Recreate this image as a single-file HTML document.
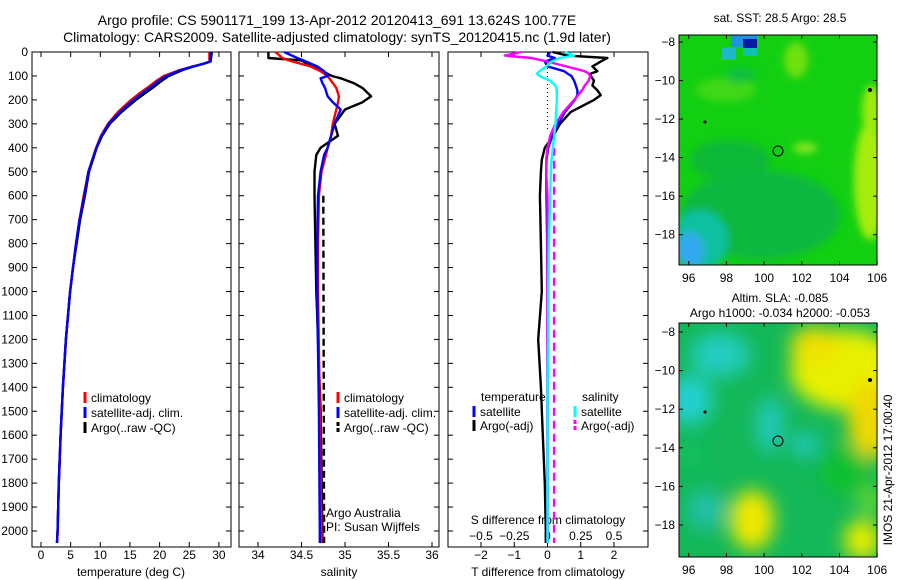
<!DOCTYPE html>
<html><head><meta charset="utf-8"><style>
body{margin:0;background:#fff;}
svg{display:block;font-family:"Liberation Sans",sans-serif;}
text{fill:#000;}
</style></head><body>
<svg id="fig" width="900" height="580" viewBox="0 0 900 580" xmlns="http://www.w3.org/2000/svg">
<defs>
<filter id="blur1" x="-20%" y="-20%" width="140%" height="140%"><feGaussianBlur stdDeviation="4"/></filter>
<filter id="blur2" x="-30%" y="-30%" width="160%" height="160%"><feGaussianBlur stdDeviation="9"/></filter>
<clipPath id="c1"><rect x="679" y="35" width="198" height="230"/></clipPath>
<clipPath id="c2"><rect x="679" y="323" width="198" height="234"/></clipPath>
</defs>
<text x="337" y="25" font-size="14" text-anchor="middle">Argo profile: CS 5901171_199 13-Apr-2012 20120413_691 13.624S 100.77E</text>
<text x="337" y="42" font-size="14" text-anchor="middle">Climatology: CARS2009. Satellite-adjusted climatology: synTS_20120415.nc (1.9d later)</text>
<g id="p1"></g>
<g id="p2"></g>
<g id="p3"></g>

<g>
<text x="780" y="22" font-size="12" text-anchor="middle">sat. SST: 28.5 Argo: 28.5</text>
<g clip-path="url(#c1)">
<rect x="679" y="35" width="198" height="230" fill="#12cf12"/>
<g filter="url(#blur1)">
<ellipse cx="760" cy="215" rx="80" ry="45" fill="#08b840"/>
<ellipse cx="730" cy="160" rx="40" ry="20" fill="#0ab838"/>
<ellipse cx="700" cy="240" rx="28" ry="30" fill="#10c0a0"/>
<ellipse cx="690" cy="250" rx="14" ry="18" fill="#30a8f0"/>
<ellipse cx="870" cy="180" rx="16" ry="60" fill="#a8ec10"/>
<ellipse cx="872" cy="110" rx="10" ry="25" fill="#a0ea10"/>
<ellipse cx="796" cy="60" rx="12" ry="18" fill="#70e010"/>
<ellipse cx="726" cy="90" rx="30" ry="12" fill="#40d818"/>
<ellipse cx="805" cy="148" rx="12" ry="5" fill="#90e820"/>
<ellipse cx="740" cy="75" rx="15" ry="8" fill="#10c040"/>
</g>
<rect x="731" y="35" width="26" height="12" fill="#2090e0"/>
<rect x="743" y="39" width="14" height="9" fill="#0a1aa0"/>
<rect x="722" y="48" width="14" height="12" fill="#20b8c8"/>
<rect x="743" y="48" width="14" height="8" fill="#10c0b0"/>
</g>
<rect x="679" y="35" width="198" height="230" fill="none" stroke="#000"/>
<circle cx="778" cy="151" r="5" fill="none" stroke="#000"/>
<circle cx="705" cy="122" r="1.5" fill="#000"/><circle cx="870" cy="90" r="2" fill="#000"/>
<g id="m1ticks"></g>
</g>

<g>
<text x="780" y="302" font-size="12" text-anchor="middle">Altim. SLA: -0.085</text>
<text x="780" y="317" font-size="12" text-anchor="middle">Argo h1000: -0.034 h2000: -0.053</text>
<g clip-path="url(#c2)">
<rect x="679" y="323" width="198" height="234" fill="#14b858"/>
<g filter="url(#blur2)">
<ellipse cx="720" cy="355" rx="30" ry="22" fill="#20ccc0"/>
<ellipse cx="690" cy="400" rx="22" ry="25" fill="#22d0d0"/>
<ellipse cx="770" cy="425" rx="14" ry="28" fill="#20c8b8"/>
<ellipse cx="805" cy="445" rx="14" ry="12" fill="#22c8c0"/>
<ellipse cx="705" cy="510" rx="18" ry="20" fill="#20c0a8"/>
<ellipse cx="845" cy="370" rx="55" ry="40" fill="#e8f000"/>
<ellipse cx="870" cy="420" rx="22" ry="40" fill="#f0d800"/>
<ellipse cx="815" cy="345" rx="25" ry="18" fill="#f0e000"/>
<ellipse cx="752" cy="520" rx="22" ry="30" fill="#f0e800"/>
<ellipse cx="862" cy="540" rx="18" ry="20" fill="#e8ec00"/>
<ellipse cx="870" cy="500" rx="12" ry="15" fill="#60d830"/>
<ellipse cx="690" cy="455" rx="14" ry="14" fill="#10c060"/>
<ellipse cx="845" cy="470" rx="25" ry="25" fill="#10c030"/>
</g>
</g>
<rect x="679" y="323" width="198" height="234" fill="none" stroke="#000"/>
<circle cx="778" cy="441" r="5" fill="none" stroke="#000"/>
<circle cx="705" cy="412" r="1.5" fill="#000"/><circle cx="870" cy="380" r="2" fill="#000"/>
<g id="m2ticks"></g>
</g>
<text transform="translate(892,470) rotate(-90)" font-size="12" text-anchor="middle">IMOS 21-Apr-2012 17:00:40</text>
</svg>
<script>
// ---- data ----
const depthT = [0,40,50,60,75,100,125,150,175,200,250,300,350,400,500,600,700,800,900,1000,1200,1400,1600,1800,2000,2050];
const tempArgo = [28.8,28.6,27.2,25.8,23.9,21.5,20.1,18.8,17.4,16.0,13.6,11.6,10.3,9.4,8.1,7.4,6.6,6,5.4,4.9,4.2,3.7,3.3,3.0,2.8,2.7];
const tempClim = [28.4,28.4,27.3,25.6,23.4,20.7,19.2,17.9,16.5,15.2,13.0,11.3,10.1,9.3,8,7.2,6.5,5.9,5.4,4.9,4.2,3.7,3.3,3.0,2.8,2.7];
const tempSat = [28.6,28.5,27.3,25.7,23.6,21.1,19.6,18.3,16.9,15.6,13.3,11.4,10.2,9.35,8.0,7.3,6.5,5.9,5.4,4.9,4.2,3.7,3.3,3.0,2.8,2.7];

const depthS = [0,25,35,60,80,100,110,130,150,185,210,240,300,350,400,430,500,600,800,1000,1500,2000,2050];
const salArgo = [34.12,34.12,34.5,34.62,34.74,34.85,34.95,35.1,35.2,35.3,35.2,35.0,34.88,34.92,34.72,34.67,34.65,34.65,34.66,34.67,34.72,34.74,34.74];
const salClim = [34.2,34.28,34.35,34.6,34.72,34.8,34.82,34.86,34.9,34.93,34.92,34.9,34.86,34.84,34.8,34.78,34.73,34.7,34.69,34.69,34.71,34.73,34.73];
const salSat = [34.3,34.45,34.52,34.68,34.76,34.8,34.72,34.74,34.77,34.8,34.86,34.95,34.88,34.84,34.8,34.76,34.72,34.69,34.68,34.68,34.7,34.71,34.71];
const depthRaw = [600,2050];
const salRaw = [34.75,34.76];

const depthD = [0,15,25,40,60,80,90,100,120,140,160,180,200,250,300,350,400,450,500,600,800,1000,1200,1400,1600,1800,2000,2050];
const tDiffArgo = [0.15,0.6,1.8,1.6,1.35,1.5,1.3,1.3,1.4,1.35,1.5,1.6,1.4,0.7,0.38,0.17,-0.08,-0.17,-0.2,-0.23,-0.2,-0.17,-0.28,-0.2,-0.14,-0.08,-0.05,-0.05];
const tDiffSat = [0.08,0,0.22,-0.08,0,0.5,0.6,0.72,0.8,0.85,0.9,0.9,0.82,0.53,0.32,0.14,0.02,-0.03,-0.04,-0.03,-0.01,0,0,0,0,0,0,0];
const sDiffSat = [0.13,0.2,0.09,0.03,-0.01,-0.06,-0.08,-0.06,0.02,0.06,0.07,0.07,0.07,0.065,0.06,0.05,0.04,0.03,0.025,0.02,0.01,0.005,0.005,0.0,0.0,0.0,0.0,0.0];
const sDiffArgo = [-0.2,-0.32,-0.12,0,0.14,0.28,0.31,0.32,0.31,0.28,0.26,0.23,0.2,0.12,0.06,0.02,0,-0.01,-0.01,0,0,0,0,0,0,0,0,0];
const depthSAdj = [400,2050];
const sDiffAdj = [0.05,0.05];

const depthTicks = [0,100,200,300,400,500,600,700,800,900,1000,1100,1200,1300,1400,1500,1600,1700,1800,1900,2000];
const tempTicks = [0,5,10,15,20,25,30];
const salTicks = [34,34.5,35,35.5,36];
const tDiffTicks = [-2,-1,0,1,2];
const sDiffTicks = [-0.5,-0.25,0,0.25,0.5];
const lonTicks = [96,98,100,102,104,106];
const latTicks = [-8,-10,-12,-14,-16,-18];

// ---- scales ----
const NS="http://www.w3.org/2000/svg";
const yD = d => 52 + d*0.2395;
const xT = t => 41 + t*5.93;
const xS = s => 258 + (s-34)*87;
const xDT = t => 547.5 + t*33.25;
const xDS = s => 547.5 + s*133;
const xLon = l => 688.7 + (l-96)*18.85;
const yLat1 = l => 42 + (-8-l)*19.27;
const yLat2 = l => 332 + (-8-l)*19.3;

function el(tag, attrs, parent){const e=document.createElementNS(NS,tag);for(const k in attrs)e.setAttribute(k,attrs[k]);parent.appendChild(e);return e;}
function txt(s,x,y,anchor,parent){const t=el('text',{x:x,y:y,'font-size':12,'text-anchor':anchor},parent);t.textContent=s;return t;}
function line(depths, vals, xf, color, parent, name, dash){
  const pts = depths.map((d,i)=>xf(vals[i]).toFixed(1)+','+yD(d).toFixed(1)).join(' ');
  const p = el('polyline',{points:pts,fill:'none',stroke:color,'stroke-width':2.4,'stroke-linejoin':'round'},parent);
  if(dash) p.setAttribute('stroke-dasharray',dash);
  
  
  return p;
}
function frame(x0,x1,parent,name){
  const r = el('rect',{x:x0,y:52,width:x1-x0,height:495,fill:'none',stroke:'#000'},parent);
  
  
  depthTicks.forEach(d=>{
    el('line',{x1:x0,x2:x0+5,y1:yD(d),y2:yD(d),stroke:'#000'},parent);
    el('line',{x1:x1,x2:x1-5,y1:yD(d),y2:yD(d),stroke:'#000'},parent);
  });
}
function xticks(ticks,xf,parent,y){
  ticks.forEach(t=>{
    el('line',{x1:xf(t),x2:xf(t),y1:547,y2:542,stroke:'#000'},parent);
    el('line',{x1:xf(t),x2:xf(t),y1:52,y2:57,stroke:'#000'},parent);
    const lb = txt(String(t).replace('-','\u2212'),xf(t),y,'middle',parent);
    
    
  });
}
function legendItem(x,y,color,label,parent,dash){
  const b = el('line',{x1:x,x2:x,y1:y-10,y2:y+1,stroke:color,'stroke-width':3},parent);
  if(dash) b.setAttribute('stroke-dasharray',dash);
  const t = txt(label,x+6,y,'start',parent);
  
  
}

// Panel 1
const p1=document.getElementById('p1');
frame(32,231,p1,'temperature-frame');
depthTicks.forEach(d=>{const t=txt(String(d),28,yD(d)+4,'end',p1);

});
xticks(tempTicks,xT,p1,559);
line(depthT,tempClim,xT,'#ff0000',p1,'temp-climatology-line');
line(depthT,tempArgo,xT,'#000',p1,'temp-argo-line');
line(depthT,tempSat,xT,'#0000ff',p1,'temp-satellite-line');
const xl1=txt('temperature (deg C)',131,576,'middle',p1);


legendItem(85,402,'#ff0000','climatology',p1);
legendItem(85,417,'#0000ff','satellite-adj. clim.',p1);
legendItem(85,432,'#000','Argo(..raw -QC)',p1);

// Panel 2
const p2=document.getElementById('p2');
frame(239,439,p2,'salinity-frame');
xticks(salTicks,xS,p2,559);
line(depthRaw,salRaw,xS,'#000',p2,'sal-argo-raw-line','7,4');
line(depthS,salArgo,xS,'#000',p2,'sal-argo-line');
line(depthS,salClim,xS,'#ff0000',p2,'sal-climatology-line');
line(depthS,salSat,xS,'#0000ff',p2,'sal-satellite-line');
const xl2=txt('salinity',339,576,'middle',p2);


legendItem(338,402,'#ff0000','climatology',p2);
legendItem(338,417,'#0000ff','satellite-adj. clim.',p2);
legendItem(338,432,'#000','Argo(..raw -QC)',p2,'4,2');
const aa=txt('Argo Australia',326,517,'start',p2);


const pi=txt('PI: Susan Wijffels',326,531,'start',p2);



// Panel 3
const p3=document.getElementById('p3');
frame(448,648,p3,'difference-frame');
xticks(tDiffTicks,xDT,p3,559);
sDiffTicks.forEach(t=>{const lb=txt(String(t).replace('-','\u2212'),xDS(t),540,'middle',p3);

});
const st=txt('S difference from climatology',548,524,'middle',p3);


const tt=txt('T difference from climatology',548,576,'middle',p3);


el('line',{x1:xDT(0),x2:xDT(0),y1:52,y2:yD(330),stroke:'#000','stroke-dasharray':'1,3'},p3);
line(depthD,tDiffArgo,xDT,'#000',p3,'tdiff-argo-line');
line(depthD,tDiffSat,xDT,'#0000ff',p3,'tdiff-satellite-line');
line(depthSAdj,sDiffAdj,xDS,'#ff00ff',p3,'sdiff-argo-adj-line','8,5');
line(depthD,sDiffArgo,xDS,'#ff00ff',p3,'sdiff-argo-line');
line(depthD,sDiffSat,xDS,'#00ffff',p3,'sdiff-satellite-line');
const lt=txt('temperature',481,401,'start',p3);


const ls=txt('salinity',582,401,'start',p3);


legendItem(474,416,'#0000ff','satellite',p3);
legendItem(474,430,'#000','Argo(-adj)',p3);
legendItem(575,416,'#00ffff','satellite',p3);
legendItem(575,430,'#ff00ff','Argo(-adj)',p3,'4,2');

// Map ticks
function mapTicks(g,yTop,yBot,yLat,labY){
  lonTicks.forEach(l=>{
    el('line',{x1:xLon(l),x2:xLon(l),y1:yBot,y2:yBot-4,stroke:'#000'},g);
    el('line',{x1:xLon(l),x2:xLon(l),y1:yTop,y2:yTop+4,stroke:'#000'},g);
    const t=txt(String(l),xLon(l),labY,'middle',g);
    
    
  });
  latTicks.forEach(l=>{
    el('line',{x1:679,x2:683,y1:yLat(l),y2:yLat(l),stroke:'#000'},g);
    el('line',{x1:877,x2:873,y1:yLat(l),y2:yLat(l),stroke:'#000'},g);
    const t=txt(String(l).replace('-','\u2212'),675,yLat(l)+4,'end',g);
    
    
  });
}
mapTicks(document.getElementById('m1ticks'),35,265,yLat1,282);
mapTicks(document.getElementById('m2ticks'),323,557,yLat2,574);
</script>
</body></html>
